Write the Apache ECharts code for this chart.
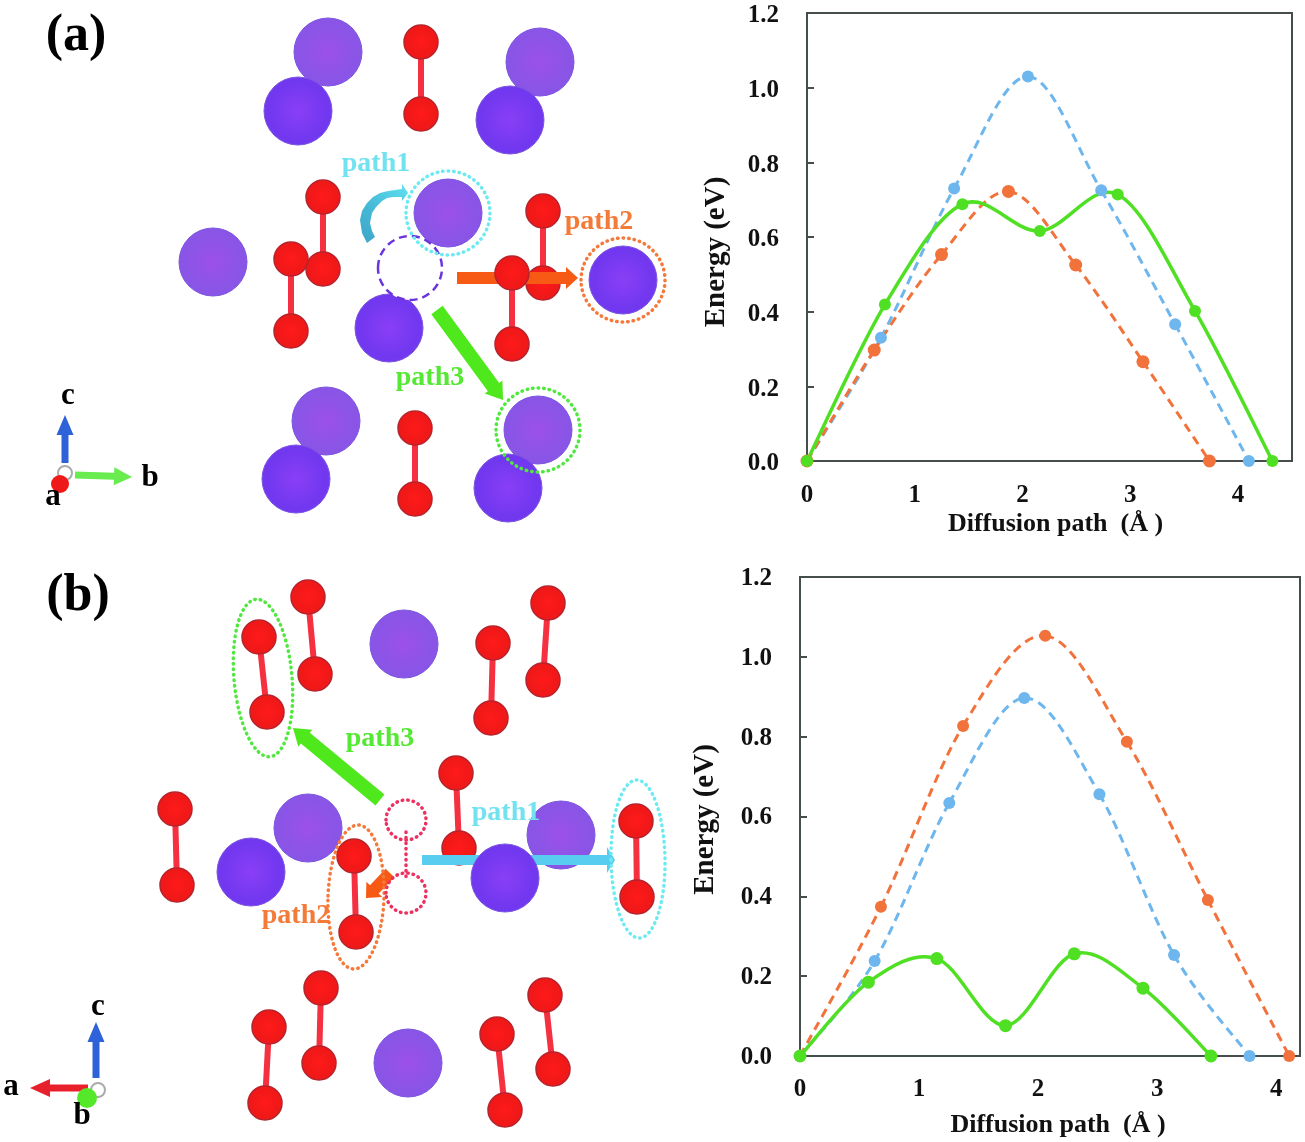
<!DOCTYPE html>
<html>
<head>
<meta charset="utf-8">
<style>html,body{margin:0;padding:0;background:#fff}#c{width:1305px;height:1142px}</style>
<script src="https://cdn.jsdelivr.net/npm/echarts@6/dist/echarts.min.js"></script>
</head>
<body>
<div id="c"></div>
<script>
// ---- Energy profiles (x in angstrom, y in eV) ----
const yTicks = [0, 0.2, 0.4, 0.6, 0.8, 1.0, 1.2];
const aBlueX = [0, 0.686, 1.365, 2.05, 2.73, 3.416, 4.10];
const aBlueY = [0, 0.33, 0.73, 1.03, 0.725, 0.366, 0];
const aOrangeX = [0, 0.624, 1.248, 1.869, 2.493, 3.117, 3.734];
const aOrangeY = [0, 0.297, 0.553, 0.722, 0.525, 0.266, 0];
const aGreenX = [0, 0.723, 1.442, 2.16, 2.883, 3.60, 4.318];
const aGreenY = [0, 0.419, 0.688, 0.616, 0.714, 0.402, 0];
const bBlueX = [0, 0.627, 1.254, 1.884, 2.515, 3.142, 3.776];
const bBlueY = [0, 0.238, 0.634, 0.897, 0.656, 0.253, 0];
const bOrangeX = [0, 0.68, 1.37, 2.06, 2.746, 3.426, 4.109];
const bOrangeY = [0, 0.374, 0.827, 1.053, 0.787, 0.391, 0];
const bGreenX = [0, 0.574, 1.149, 1.726, 2.304, 2.881, 3.452];
const bGreenY = [0, 0.185, 0.244, 0.076, 0.256, 0.17, 0];

// ---- Structure panels, in picture units ----
const purpleBack = [[328,52],[540,62],[326,421],[538,430],[448,213],[213,262],[308,828],[561,835],[404,644],[408,1063]];
const purpleFront = [[298,111],[510,120],[296,479],[508,488],[389,328],[623,280],[251,872],[505,878]];
const bondsBack = [[421,42,421,114],[323,197,323,269],[543,211,543,283],[415,428,415,499],
  [308,597,315,674],[548,603,543,680],[456,773,459,848],[321,988,319,1063],[545,995,553,1069],[175,809,177,885]];
const bondsFront = [[291,259,291,331],[512,273,512,344],[259,637,267,712],[493,643,491,718],
  [354,856,356,932],[636,821,637,897],[269,1027,265,1103],[497,1034,505,1110]];
const arrowsOrange = [[457,278,578,278],[390,873,366,898]];
const arrowsGreen = [[437,310,503,400],[380,800,293,728]];
const arrowsCyan = [[422,860,615,860]];
const ringsCyan = [[448,213,42,42,0],[638,859,27,79,1]];
const ringsOrange = [[623,280,42,42,0],[356,897,28,72,-2]];
const ringsGreen = [[538,430,42,42,0],[263,678,29,79,5]];
const ringsPink = [[406,820,20,20,0],[406,893,20,20,0]];
const ringsDash = [[410,268,32,32,0]];
const curveArrow = [[362,233],[360,220],[362,211],[367,203],[373,197],[380,193],[388,191],[395,190],[402,189],[402,184],[408,193],[402,201],[402,197],[393,197],[387,198],[382,201],[376,207],[372,213],[370,223],[372,231],[375,237],[367,243]];
const tipBlue = [[65,463,65,415],[96,1078,96,1022]];
const tipGreen = [[75,475,132,477]];
const tipRed = [[88,1088,30,1088]];
const pinkBond = [[406,832,406,880]];
const labelsCyan = [[376,164,'path1'],[506,813,'path1']];
const labelsOrange = [[599,222,'path2'],[296,916,'path2']];
const labelsGreen = [[430,378,'path3'],[380,739,'path3']];
const labelsPanel = [[76,37,'(a)'],[78,597,'(b)']];
const labelsAxes = [[68,396,'c'],[150,478,'b'],[53,497,'a'],[98,1007,'c'],[11,1087,'a'],[82,1116,'b']];
const dotRed = [[60,484]];
const dotGreen = [[87,1098]];
const dotCentre = [[65,473],[98,1090]];

const SERIF = '"Liberation Serif","Times New Roman",serif';
const BLUE = '#6db6ee', ORANGE = '#f2723c', GREEN = '#4fe024';
const AXIS = '#454d4d';

const zip = (xs, ys) => xs.map((x, i) => [x, ys[i]]);
// Spreadsheet-style smoothed line through the images: one cubic per data interval.
function profile(name, xs, ys, color, dashed, gi, size) {
  const marks = zip(xs, ys);
  return [{
    type: 'custom', name, xAxisIndex: gi, yAxisIndex: gi, data: marks, clip: false, z: 5,
    encode: { x: 0, y: 1 }, animation: false, silent: true,
    renderItem(params, api) {
      const i = params.dataIndex;
      if (i >= marks.length - 1) return null;
      const p = j => api.coord(marks[Math.max(0, Math.min(marks.length - 1, j))]);
      const p0 = p(i - 1), p1 = p(i), p2 = p(i + 1), p3 = p(i + 2);
      return { type: 'bezierCurve', shape: {
          x1: p1[0], y1: p1[1], x2: p2[0], y2: p2[1],
          cpx1: p1[0] + (p2[0] - p0[0]) / 6, cpy1: p1[1] + (p2[1] - p0[1]) / 6,
          cpx2: p2[0] - (p3[0] - p1[0]) / 6, cpy2: p2[1] - (p3[1] - p1[1]) / 6 },
        style: { fill: 'none', stroke: color, lineWidth: dashed ? 3 : 3.5, lineDash: dashed ? [9, 6] : null } };
    }
  }, {
    type: 'scatter', name: name + ' images', xAxisIndex: gi, yAxisIndex: gi, data: marks,
    symbol: 'circle', symbolSize: size, clip: false, z: 6,
    itemStyle: { color, opacity: 1 }, animation: false, silent: true
  }];
}
const SCENE = 2;
const sceneBase = { xAxisIndex: SCENE, yAxisIndex: SCENE, animation: false, silent: true, clip: false };
const rgrad = (c, e) => ({ type: 'radial', x: .5, y: .5, r: .5, colorStops: [{ offset: 0, color: c }, { offset: .8, color: e }, { offset: 1, color: e }] });

function atoms(data, c, e, z) {
  return Object.assign({}, sceneBase, {
    type: 'scatter', data, symbol: 'circle', symbolSize: 68, z,
    itemStyle: { color: rgrad(c, e), borderColor: '#7a55e0', borderWidth: 1, opacity: 1 }
  });
}
function bonds(data, z) {
  return Object.assign({}, sceneBase, {
    type: 'custom', data, z, encode: { x: [0, 2], y: [1, 3] },
    renderItem(p, api) {
      const a = api.coord([api.value(0), api.value(1)]), b = api.coord([api.value(2), api.value(3)]);
      const atom = q => ({ type: 'circle', shape: { cx: q[0], cy: q[1], r: 17 },
        style: { fill: rgrad('#ff1a1a', '#f01818'), stroke: '#b5242c', lineWidth: 1.5 } });
      return { type: 'group', children: [
        { type: 'line', shape: { x1: a[0], y1: a[1], x2: b[0], y2: b[1] }, style: { stroke: '#f53040', lineWidth: 6 } },
        atom(a), atom(b) ] };
    }
  });
}
function arrows(data, color, w, headL, headW, z) {
  return Object.assign({}, sceneBase, {
    type: 'custom', data, z, encode: { x: [0, 2], y: [1, 3] },
    renderItem(p, api) {
      const a = api.coord([api.value(0), api.value(1)]), b = api.coord([api.value(2), api.value(3)]);
      const L = Math.hypot(b[0] - a[0], b[1] - a[1]), ux = (b[0] - a[0]) / L, uy = (b[1] - a[1]) / L, nx = -uy, ny = ux;
      const m = [b[0] - ux * headL, b[1] - uy * headL];
      const pt = (q, s) => [q[0] + nx * s, q[1] + ny * s];
      return { type: 'polygon', shape: { points: [pt(a, w / 2), pt(m, w / 2), pt(m, headW / 2), b, pt(m, -headW / 2), pt(m, -w / 2), pt(a, -w / 2)] },
        style: { fill: color } };
    }
  });
}
function rings(data, color, width, dash, fill, z) {
  return Object.assign({}, sceneBase, {
    type: 'custom', data, z, encode: { x: 0, y: 1 },
    renderItem(p, api) {
      const c = api.coord([api.value(0), api.value(1)]);
      return { type: 'ellipse', x: c[0], y: c[1], rotation: api.value(4) * Math.PI / 180,
        shape: { cx: 0, cy: 0, rx: api.value(2), ry: api.value(3) },
        style: { fill, stroke: color, lineWidth: width, lineDash: dash, lineCap: dash[0] < 1 ? 'round' : 'butt' } };
    }
  });
}
function labels(data, color, size, z) {
  return Object.assign({}, sceneBase, {
    type: 'scatter', data, symbolSize: 0.01, z,
    itemStyle: { color: 'rgba(0,0,0,0)', opacity: 1 },
    label: { show: true, position: 'inside', formatter: d => d.value[2], color,
      fontFamily: SERIF, fontWeight: 'bold', fontSize: size }
  });
}
function dots(data, color, size, stroke, z) {
  return Object.assign({}, sceneBase, {
    type: 'scatter', data, symbolSize: size, z,
    itemStyle: { color, borderColor: stroke, borderWidth: stroke === 'none' ? 0 : 2, opacity: 1 }
  });
}

const axisStyle = { show: true, lineStyle: { color: AXIS, width: 2 } };
const tickLabel = { color: '#111', fontFamily: SERIF, fontWeight: 'bold', fontSize: 25 };
const xAx = (gi, max, gap, margin, shift) => ({
  type: 'value', gridIndex: gi, min: 0, max, interval: 1, axisLine: Object.assign({ onZero: false }, axisStyle),
  axisTick: { show: false }, splitLine: { show: false }, axisLabel: Object.assign({}, tickLabel, { margin, showMaxLabel: false, formatter: v => v > 4 ? '' : String(v) }),
  name: 'Diffusion path  (Å )', nameLocation: 'middle', nameGap: gap, nameMoveOverlap: false,
  nameTextStyle: { color: '#111', fontFamily: SERIF, fontWeight: 'bold', fontSize: 26, padding: [0, 0, 0, shift] }
});
const yAx = (gi, gap, drop, shift) => ({
  type: 'value', gridIndex: gi, min: 0, max: 1.2, interval: 0.2, axisLine: axisStyle,
  axisTick: { show: true, inside: true, length: 7, lineStyle: { color: AXIS, width: 2 } }, splitLine: { show: false },
  axisLabel: Object.assign({}, tickLabel, { margin: 28, verticalAlign: 'top', lineHeight: drop, formatter: v => yTicks.find(t => Math.abs(t - v) < 1e-6).toFixed(1) }),
  name: 'Energy (eV)', nameLocation: 'middle', nameGap: gap, nameMoveOverlap: false,
  nameTextStyle: { color: '#111', fontFamily: SERIF, fontWeight: 'bold', fontSize: 29, padding: [0, shift, 0, 0] }
});

const option = {
  backgroundColor: '#fff',
  animation: false,
  grid: [
    { left: 807, top: 13, width: 485, height: 448, show: true, borderColor: AXIS, borderWidth: 2, backgroundColor: 'transparent', outerBoundsMode: 'none' },
    { left: 800, top: 577, width: 500, height: 479, show: true, borderColor: AXIS, borderWidth: 2, backgroundColor: 'transparent', outerBoundsMode: 'none' },
    { left: 0, top: 0, width: 1305, height: 1142, outerBoundsMode: 'none' }
  ],
  xAxis: [xAx(0, 4.5, 50, 22, 12), xAx(1, 4.2, 56, 21, 16), { type: 'value', gridIndex: 2, min: 0, max: 1305, show: false }],
  yAxis: [yAx(0, 76, 6, 30), yAx(1, 80, 3, 6), { type: 'value', gridIndex: 2, min: 0, max: 1142, inverse: true, show: false }],
  series: [
    ...profile('a path1', aBlueX, aBlueY, BLUE, true, 0, 12),
    ...profile('a path2', aOrangeX, aOrangeY, ORANGE, true, 0, 13),
    ...profile('a path3', aGreenX, aGreenY, GREEN, false, 0, 12),
    ...profile('b path2', bOrangeX, bOrangeY, ORANGE, true, 1, 12),
    ...profile('b path1', bBlueX, bBlueY, BLUE, true, 1, 12),
    ...profile('b path3', bGreenX, bGreenY, GREEN, false, 1, 13),

    atoms(purpleBack, '#9c50ea', '#8a55e6', 10),
    bonds(bondsBack, 11),
    arrows(arrowsOrange, '#f65a14', 12, 12, 22, 12),
    arrows(arrowsGreen, '#4fe81c', 14, 16, 22, 12),
    arrows(arrowsCyan, '#58cdf0', 10, 8, 26, 12),
    bonds(bondsFront, 13),
    atoms(purpleFront, '#8a3ff5', '#7238f0', 14),
    rings(ringsDash, '#6a35dc', 2.5, [8, 5], '#fff', 15),
    rings(ringsCyan, '#6ceaf2', 3.5, [0.5, 5], 'transparent', 16),
    rings(ringsOrange, '#f5793a', 3.5, [0.5, 5], 'transparent', 16),
    rings(ringsGreen, '#4fe83c', 3.5, [0.5, 5], 'transparent', 16),
    rings(ringsPink, '#ee3060', 3.5, [0.5, 5], 'transparent', 16),
    Object.assign({}, sceneBase, {
      type: 'custom', data: [curveArrow[0]], z: 16, encode: { x: 0, y: 1 },
      renderItem(p, api) {
        const pts = curveArrow.map(q => api.coord(q));
        return { type: 'polygon', shape: { points: pts },
          style: { fill: { type: 'linear', x: 0, y: 1, x2: 1, y2: 0, colorStops: [{ offset: 0, color: '#3ea4c8' }, { offset: .5, color: '#46bcd8' }, { offset: 1, color: '#62e2f2' }] } } };
      }
    }),
    Object.assign({}, sceneBase, {
      type: 'custom', data: pinkBond, z: 16, encode: { x: [0, 2], y: [1, 3] },
      renderItem(p, api) {
        const a = api.coord([api.value(0), api.value(1)]), b = api.coord([api.value(2), api.value(3)]);
        return { type: 'line', shape: { x1: a[0], y1: a[1], x2: b[0], y2: b[1] }, style: { stroke: '#ee3060', lineWidth: 3.5, lineDash: [0.5, 5], lineCap: 'round' } };
      }
    }),
    arrows(tipBlue, '#2e62d8', 7, 20, 17, 17),
    arrows(tipGreen, '#68ec50', 7, 18, 18, 17),
    arrows(tipRed, '#e8202c', 7, 20, 18, 17),
    dots(dotCentre, '#fff', 14, '#a8acac', 18),
    dots(dotRed, '#ee1a1a', 18, 'none', 19),
    dots(dotGreen, '#55e82a', 20, 'none', 19),
    labels(labelsCyan, '#72e2f0', 28, 20),
    labels(labelsOrange, '#f47a38', 28, 20),
    labels(labelsGreen, '#55e834', 28, 20),
    labels(labelsPanel, '#000', 52, 20),
    labels(labelsAxes, '#000', 31, 20)
  ]
};
const chart = echarts.init(document.getElementById('c'), null, { renderer: 'canvas', width: 1305, height: 1142 });
chart.setOption(option);
</script>
</body>
</html>
